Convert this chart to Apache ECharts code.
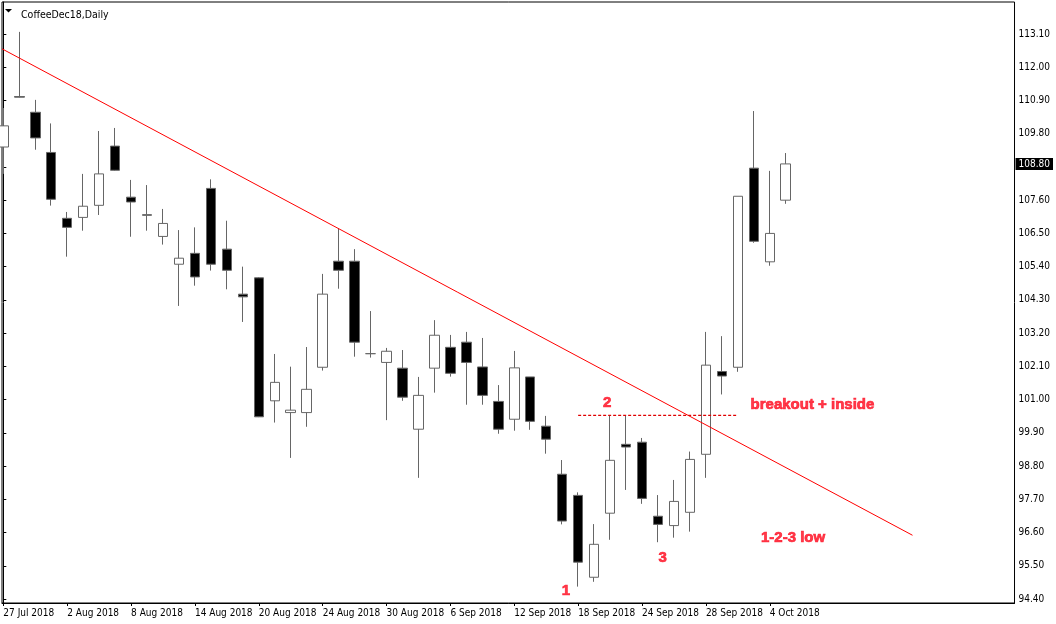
<!DOCTYPE html>
<html>
<head>
<meta charset="utf-8">
<script src="https://cdn.jsdelivr.net/npm/echarts@6/dist/echarts.min.js"></script>
<style>
html,body{margin:0;padding:0;background:#fff;}
#chart{width:1056px;height:624px;}
</style>
</head>
<body>
<div id="chart"></div>
<script>
const dates = ['27 Jul 2018','30 Jul 2018','31 Jul 2018','1 Aug 2018','2 Aug 2018','3 Aug 2018','6 Aug 2018','7 Aug 2018','8 Aug 2018','9 Aug 2018','10 Aug 2018','13 Aug 2018','14 Aug 2018','15 Aug 2018','16 Aug 2018','17 Aug 2018','20 Aug 2018','21 Aug 2018','22 Aug 2018','23 Aug 2018','24 Aug 2018','27 Aug 2018','28 Aug 2018','29 Aug 2018','30 Aug 2018','31 Aug 2018','4 Sep 2018','5 Sep 2018','6 Sep 2018','7 Sep 2018','10 Sep 2018','11 Sep 2018','12 Sep 2018','13 Sep 2018','14 Sep 2018','17 Sep 2018','18 Sep 2018','19 Sep 2018','20 Sep 2018','21 Sep 2018','24 Sep 2018','25 Sep 2018','26 Sep 2018','27 Sep 2018','28 Sep 2018','1 Oct 2018','2 Oct 2018','3 Oct 2018','4 Oct 2018','5 Oct 2018'];

const openP  = [109.36,111.03,110.51,109.18,107.00,107.03,107.43,109.39,107.70,107.12,106.40,105.48,105.84,107.99,105.98,104.49,105.03,100.96,100.57,100.57,102.07,105.58,105.58,102.52,102.23,102.04,100.02,102.04,102.73,102.90,102.08,100.94,100.35,101.75,100.12,98.53,97.83,95.12,97.24,99.52,99.59,97.14,96.83,97.27,99.19,101.93,102.07,108.66,105.56,107.60];
const closeP = [110.06,111.01,109.66,107.63,106.70,107.40,108.47,108.59,107.54,107.10,106.83,105.68,105.06,105.48,105.28,104.40,100.43,101.57,100.65,101.34,104.49,105.28,102.90,102.52,102.60,101.08,101.14,103.13,101.87,102.23,101.14,100.02,102.05,100.28,99.69,96.98,95.62,96.21,98.99,99.43,97.73,96.87,97.63,99.02,102.14,101.78,107.73,106.24,106.50,108.80];
const lowP   = [108.47,111.00,109.27,107.42,105.73,106.59,107.11,108.57,106.39,106.59,106.13,104.10,104.77,105.27,104.65,103.57,100.42,100.24,99.07,100.10,101.96,104.67,102.42,102.39,100.32,100.96,98.41,101.23,101.76,100.83,100.83,99.87,99.97,100.00,99.21,96.87,94.81,94.97,96.36,98.01,97.55,96.28,96.43,96.63,98.41,101.17,101.92,106.19,105.43,107.48];
const highP  = [110.65,113.17,110.92,110.14,107.21,108.47,109.89,109.99,108.27,108.10,107.31,106.61,106.70,108.29,106.92,105.40,105.05,102.51,102.09,102.74,105.16,106.67,105.98,103.93,102.71,102.64,101.75,103.63,103.14,103.24,103.04,101.48,102.61,101.75,100.46,99.00,97.93,96.88,100.48,100.48,99.73,97.84,98.34,99.28,103.24,103.10,107.73,110.55,108.57,109.16];

const priceTicks = [94.40,95.50,96.60,97.70,98.80,99.90,101.00,102.10,103.20,104.30,105.40,106.50,107.60,108.70,109.80,110.90,112.00,113.10];
const dateTickIdx = [0,4,8,12,16,20,24,28,32,36,40,44,48];
const lastPrice = [108.80];

// drawn objects (index, price)
const trendLine = [[-0.083,112.61],[56.94,96.51]];
const level2Line = [[36,100.48],[46,100.48]];
const centerTexts = ['1','2','3'];
const centerTextPos = [[35.23,94.66],[37.81,100.88],[41.30,95.75]];
const leftTexts = ['breakout + inside','1-2-3 low'];
const leftTextPos = [[46.80,100.83],[47.45,96.42]];

const FONT = "'DejaVu Sans Condensed','DejaVu Sans',sans-serif";
const RED = '#ff0a1e';

const candleData = dates.map((d,i)=>[i, openP[i], closeP[i], lowP[i], highP[i]]);
const redLabel = {show:true, formatter:'{b}', color:RED, fontFamily:"'Liberation Sans',Arial,sans-serif", fontWeight:'bold', fontSize:15, textBorderColor:RED, textBorderWidth:0.7};

const chart = echarts.init(document.getElementById('chart'), null, {renderer:'canvas'});
chart.setOption({
  animation:false,
  backgroundColor:'#fff',
  title:{text:'CoffeeDec18,Daily', left:16, top:5, textStyle:{fontFamily:FONT,fontSize:10.5,fontWeight:'normal',color:'#000'}},
  graphic:[{type:'polygon', shape:{points:[[5,9],[12,9],[8.5,12.5]]}, style:{fill:'#000'}}],
  grid:{left:2, top:2, width:1014, height:601, show:true, borderColor:'#000', borderWidth:1, backgroundColor:'#fff'},
  xAxis:{
    type:'value', min:-0.083, max:63.33,
    axisLine:{show:true, onZero:false, lineStyle:{color:'#000', width:1}},
    axisTick:{show:true, length:3, customValues:dateTickIdx, lineStyle:{color:'#000'}},
    axisLabel:{customValues:dateTickIdx, formatter:v=>dates[Math.round(v)]||'', align:'left', margin:5, fontFamily:FONT, fontSize:10, color:'#000'},
    splitLine:{show:false}
  },
  yAxis:[{
    type:'value', position:'right', min:94.268, max:114.159,
    axisLine:{show:true, lineStyle:{color:'#000', width:1}},
    axisTick:{show:true, length:3, customValues:priceTicks, lineStyle:{color:'#000'}},
    axisLabel:{customValues:priceTicks, formatter:v=>v.toFixed(2), margin:4, fontFamily:FONT, fontSize:10, color:'#000'},
    splitLine:{show:false}
  },{
    type:'value', position:'right', min:94.268, max:114.159,
    axisLine:{show:false}, axisTick:{show:false}, splitLine:{show:false},
    axisLabel:{customValues:lastPrice, formatter:v=>v.toFixed(2), margin:1, fontFamily:FONT, fontSize:10, color:'#fff', backgroundColor:'#000', padding:[1,3,1,3]}
  }],
  series:[{
    type:'candlestick',
    data:candleData,
    encode:{x:0, y:[1,2,3,4]},
    barWidth:10,
    itemStyle:{color:'#fff', color0:'#000', borderColor:'#666', borderColor0:'#666', borderWidth:1},
    silent:true, clip:true
  },{
    type:'line', data:trendLine, symbol:'none', silent:true, clip:true,
    lineStyle:{color:'#ff0000', width:1}
  },{
    type:'line', data:level2Line, symbol:'none', silent:true,
    lineStyle:{color:'#e00000', width:1.2, type:[3,2]}
  },{
    type:'scatter', symbolSize:0, silent:true,
    data:centerTexts.map((t,i)=>({name:t, value:centerTextPos[i]})),
    label:Object.assign({position:'inside'}, redLabel)
  },{
    type:'scatter', symbolSize:0, silent:true,
    data:leftTexts.map((t,i)=>({name:t, value:leftTextPos[i]})),
    label:Object.assign({position:'right', distance:0}, redLabel)
  }]
});
</script>
</body>
</html>
